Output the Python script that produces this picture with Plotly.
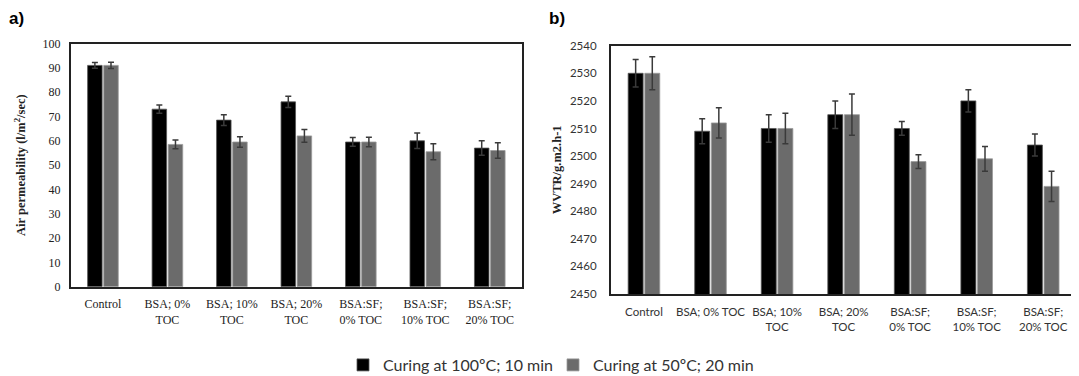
import plotly.graph_objects as go

cats_a = ["Control", "BSA; 0%<br>TOC", "BSA; 10%<br>TOC", "BSA; 20%<br>TOC",
          "BSA:SF;<br>0% TOC", "BSA:SF;<br>10% TOC", "BSA:SF;<br>20% TOC"]
cats_b = ["Control", "BSA; 0% TOC", "BSA; 10%<br>TOC", "BSA; 20%<br>TOC",
          "BSA:SF;<br>0% TOC", "BSA:SF;<br>10% TOC", "BSA:SF;<br>20% TOC"]

air_100 = [91, 73, 68.5, 76, 59.5, 60, 57]
air_100_err = [1.2, 1.7, 2.2, 2.3, 1.8, 3.2, 3.0]
air_50 = [91, 58.5, 59.5, 62, 59.5, 55.5, 56]
air_50_err = [1.3, 1.8, 2.2, 2.6, 2.0, 3.3, 3.2]

wvtr_100 = [2530, 2509, 2510, 2515, 2510, 2520, 2504]
wvtr_100_err = [5, 4.5, 5, 5, 2.5, 4, 4]
wvtr_50 = [2530, 2512, 2510, 2515, 2498, 2499, 2489]
wvtr_50_err = [6, 5.5, 5.5, 7.5, 2.5, 4.5, 5.5]

names = ["Curing at 100ºC; 10 min", "Curing at 50ºC; 20 min"]
colors = ["#000000", "#6b6b6b"]
edge = ["#555555", "#9a9a9a"]

# page body has an 8px margin; figure is placed at (8, 8)
OFF = 8
W, H = 1079 - OFF, 376 - OFF


def px(x):
    return (x - OFF) / W


def py(y):
    return 1 - (y - OFF) / H


fig = go.Figure()


def add(x, y, err, i, xa, ya, show):
    fig.add_trace(go.Bar(
        x=x, y=y, name=names[i], xaxis=xa, yaxis=ya, showlegend=show,
        legendgroup=names[i],
        marker=dict(color=colors[i], line=dict(color=edge[i], width=0.8)),
        error_y=dict(type="data", array=err, color="#3a3a3a", thickness=1.5, width=3),
    ))


add(cats_a, air_100, air_100_err, 0, "x", "y", True)
add(cats_a, air_50, air_50_err, 1, "x", "y", True)
add(cats_b, wvtr_100, wvtr_100_err, 0, "x2", "y2", False)
add(cats_b, wvtr_50, wvtr_50_err, 1, "x2", "y2", False)

serif = "Liberation Serif"
sans = "Lato"

axis_common = dict(showline=True, linecolor="#222222", linewidth=1.6, mirror=True,
                   showgrid=False, zeroline=False, ticks="outside",
                   tickcolor="rgba(0,0,0,0)", automargin=False)

fig.update_layout(
    template="none",
    width=W, height=H, autosize=False,
    margin=dict(l=0, r=0, t=0, b=0, pad=0, autoexpand=False),
    plot_bgcolor="white", paper_bgcolor="white",
    barmode="group", bargap=0.5, bargroupgap=0.1,
    xaxis=dict(domain=[px(70.7), px(522)], anchor="y", type="category", ticklen=5,
               tickfont=dict(family=serif, size=12, color="#222"), **axis_common),
    yaxis=dict(domain=[py(286.7), py(43.5)], anchor="x", range=[0, 100], dtick=10,
               ticklen=6, tickfont=dict(family=serif, size=12, color="#222"),
               title=dict(text="<b>Air permeability (l/m<sup>2</sup>/sec)</b>",
                          font=dict(family=serif, size=12.5, color="#222"), standoff=14),
               **axis_common),
    xaxis2=dict(domain=[px(610.7), px(1076.5)], anchor="y2", type="category", ticklen=6,
                tickfont=dict(family=sans, size=11.5, color="#333"), **axis_common),
    yaxis2=dict(domain=[py(294), py(45.7)], anchor="x2", range=[2450, 2540], dtick=10,
                ticklen=10, tickfont=dict(family=sans, size=11.5, color="#333"),
                title=dict(text="<b>WVTR/g.m2.h-1</b>",
                           font=dict(family=serif, size=12.5, color="#222"), standoff=6),
                **axis_common),
    legend=dict(orientation="h", x=px(343), xanchor="left", y=py(365), yanchor="middle",
                font=dict(family=sans, size=16, color="#333"),
                traceorder="normal", entrywidthmode="pixels", entrywidth=165),
    annotations=[
        dict(text="<b>a)</b>", x=px(7), y=py(18), xref="paper", yref="paper",
             xanchor="left", yanchor="middle", showarrow=False,
             font=dict(family="Liberation Sans", size=17, color="#000")),
        dict(text="<b>b)</b>", x=px(547), y=py(19), xref="paper", yref="paper",
             xanchor="left", yanchor="middle", showarrow=False,
             font=dict(family="Liberation Sans", size=17, color="#000")),
    ],
)

fig.write_html("out.html")
